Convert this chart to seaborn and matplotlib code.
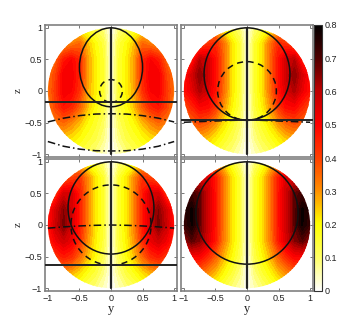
import numpy as np
import matplotlib
matplotlib.use("Agg")
import matplotlib.pyplot as plt
from matplotlib.patches import Circle, Ellipse
from matplotlib.cm import ScalarMappable
from matplotlib.colors import Normalize
import seaborn as sns

y_half = [0, 0.125, 0.25, 0.375, 0.5, 0.625, 0.75, 0.875, 1]
z_vals = [1, 0.75, 0.5, 0.25, 0, -0.25, -0.5, -0.75, -1]

field_a = [[0, .08, .12, .15, .20, .22, .24, .25, .25],
           [0, .14, .19, .26, .35, .32, .29, .27, .26],
           [0, .15, .21, .29, .44, .50, .46, .36, .30],
           [0, .15, .21, .29, .44, .52, .52, .40, .33],
           [0, .15, .21, .28, .42, .50, .52, .42, .33],
           [0, .14, .19, .26, .36, .44, .47, .40, .32],
           [0, .11, .16, .20, .26, .31, .35, .33, .30],
           [0, .08, .13, .16, .19, .22, .24, .25, .25],
           [0, .04, .08, .11, .14, .17, .20, .21, .20]]
field_b = [[0, .09, .14, .20, .26, .31, .34, .34, .34],
           [0, .15, .23, .34, .44, .42, .38, .36, .34],
           [0, .15, .23, .35, .48, .58, .60, .45, .40],
           [0, .15, .23, .35, .48, .58, .65, .56, .47],
           [0, .15, .23, .34, .47, .56, .61, .53, .47],
           [0, .14, .21, .30, .42, .49, .50, .44, .38],
           [0, .11, .17, .23, .30, .36, .39, .36, .32],
           [0, .08, .13, .17, .21, .25, .27, .27, .26],
           [0, .04, .08, .11, .15, .18, .20, .22, .22]]
field_c = [[0, .08, .13, .18, .25, .30, .32, .32, .32],
           [0, .15, .22, .31, .42, .40, .36, .34, .32],
           [0, .15, .22, .32, .46, .56, .56, .42, .38],
           [0, .15, .22, .32, .46, .57, .65, .56, .46],
           [0, .15, .22, .32, .46, .57, .66, .58, .47],
           [0, .14, .21, .30, .43, .53, .57, .52, .44],
           [0, .12, .19, .26, .35, .43, .46, .42, .38],
           [0, .08, .14, .18, .23, .27, .30, .30, .29],
           [0, .04, .08, .11, .15, .18, .22, .24, .24]]
field_d = [[0, .09, .16, .23, .31, .37, .42, .42, .42],
           [0, .15, .23, .33, .46, .56, .56, .52, .48],
           [0, .15, .23, .33, .47, .58, .68, .72, .62],
           [0, .15, .23, .33, .47, .58, .68, .78, .74],
           [0, .15, .23, .33, .47, .58, .68, .78, .72],
           [0, .15, .23, .32, .46, .56, .65, .69, .62],
           [0, .13, .20, .27, .36, .44, .50, .50, .46],
           [0, .09, .15, .20, .26, .31, .35, .36, .36],
           [0, .05, .09, .13, .17, .20, .24, .27, .28]]
fields = [field_a, field_b, field_c, field_d]

# outer ellipse: centre z, half width, half height
solid_ell = [(0.375, 0.50, 0.625), (0.27, 0.68, 0.73), (0.27, 0.68, 0.73), (0.19, 0.81, 0.81)]
dash_r = [0.18, 0.465, 0.635, None]
horiz = [-0.18, -0.46, -0.63, None]

curve_y = [-1, -0.75, -0.5, -0.25, 0, 0.25, 0.5, 0.75, 1]
curve_a1 = [-0.49, -0.43, -0.39, -0.365, -0.36, -0.365, -0.39, -0.43, -0.49]
curve_a2 = [-0.80, -0.875, -0.92, -0.945, -0.95, -0.945, -0.92, -0.875, -0.80]
curve_b = [-0.495, -0.485, -0.475, -0.465, -0.46, -0.465, -0.475, -0.485, -0.495]
curve_c = [-0.05, -0.03, -0.015, -0.005, 0, -0.005, -0.015, -0.03, -0.05]
curves = [[curve_a1, curve_a2], [curve_b], [curve_c], []]

ticks = [-1, -0.5, 0, 0.5, 1]
tick_txt = ["\u22121", "\u22120.5", "0", "0.5", "1"]
bar_ticks = [0, 0.1, 0.2, 0.3, 0.4, 0.5, 0.6, 0.7, 0.8]
bar_txt = ["0", "0.1", "0.2", "0.3", "0.4", "0.5", "0.6", "0.7", "0.8"]
anchors = ["#ffffff", "#ffff66", "#ffff00", "#ff9000", "#ff4000", "#ff0000", "#c00000", "#500000", "#000000"]

sns.set_style("white")
plt.rcParams['font.family'] = ['Liberation Sans', 'DejaVu Sans']
cmap = sns.blend_palette(anchors, n_colors=32, as_cmap=True)
levels = np.linspace(0, 0.8, 33)
W, H = 346, 328
gray = "#808080"

fig = plt.figure(figsize=(W / 100, H / 100), dpi=100)
boxes = [(45, 25), (181, 25), (45, 159), (181, 159)]
y_full = np.array([-v for v in y_half[:0:-1]] + y_half)

for i, (x0, y0) in enumerate(boxes):
    ax = fig.add_axes([x0 / W, 1 - (y0 + 132) / H, 132 / W, 132 / H])
    half = np.array(fields[i])
    full = np.hstack([half[:, :0:-1], half])
    cs = ax.contourf(y_full, z_vals, full, levels=levels, cmap=cmap, vmin=0, vmax=0.8)
    cs.set_clip_path(Circle((0, 0), 1, transform=ax.transData))

    zc, a, b = solid_ell[i]
    ax.add_patch(Ellipse((0, zc), 2 * a, 2 * b, fill=False, ec="#111111", lw=1.1, zorder=3))
    if dash_r[i] is not None:
        r = dash_r[i]
        ax.add_patch(Ellipse((0, 0), 2 * r, 2 * r, fill=False, ec="#111111", lw=1.1, ls=(0, (4, 3)), zorder=3))
        ax.axhline(horiz[i], color="#222222", lw=1.4, zorder=4)
    for c in curves[i]:
        ax.plot(curve_y, c, color="#111111", lw=1.1, ls=(0, (5, 2, 1, 2)), zorder=3)
    ax.plot([0, 0], [1, -1], color="#222222", lw=1.6, zorder=4)

    ax.set_xlim(-1.045, 1.045)
    ax.set_ylim(-1.045, 1.045)
    ax.set_xticks(ticks)
    ax.set_yticks(ticks)
    ax.tick_params(direction="in", length=2, width=0.5, color="#444444", top=True, right=True,
                   bottom=True, left=True, labelsize=6.5, pad=2, labelcolor="#222222")
    ax.set_xticklabels(tick_txt if i >= 2 else [])
    ax.set_yticklabels(tick_txt if i % 2 == 0 else [])
    for s in ax.spines.values():
        s.set_color(gray)
        s.set_linewidth(1.2)
    if i % 2 == 0:
        ax.set_ylabel("z", family="Liberation Serif", fontsize=8, labelpad=1, color="#222222")
    if i >= 2:
        ax.set_xlabel("y", family="Liberation Serif", fontsize=9, labelpad=0, color="#222222")

cax = fig.add_axes([314 / W, 1 - 291 / H, 8 / W, 266 / H])
bar = fig.colorbar(ScalarMappable(Normalize(0, 0.8), cmap), cax=cax, ticks=bar_ticks)
bar.ax.set_yticklabels(bar_txt)
bar.ax.tick_params(direction="in", length=2, width=0.5, labelsize=6.5, pad=2, color="#444444", labelcolor="#222222", right=True, left=True)
bar.outline.set_edgecolor("#333333")
bar.outline.set_linewidth(0.8)

fig.savefig("out.png", dpi=100)
